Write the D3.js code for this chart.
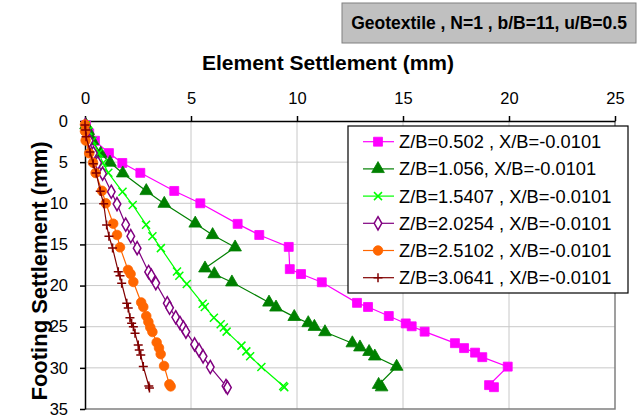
<!DOCTYPE html>
<meta charset="utf-8">
<style>
body { margin: 0; background: #fff; }
text { font-family: "Liberation Sans", Arial, sans-serif; }
.grid line { stroke: #c8c8c8; stroke-width: 1px; }
.axis path, .axis line { stroke: #000; stroke-width: 1.5px; }
.axis text { font-size: 16.5px; fill: #000; }
.series path.line { fill: none; stroke-width: 1.2px; }
</style>
<body>
<script src="https://d3js.org/d3.v7.min.js"></script>
<script>

// chart data: [element settlement (mm), footing settlement (mm)]
var zb0502 = [[0.05,0.5],[0.2,1.5],[0.47,2.4],[1.13,3.9],[1.76,5.1],[2.61,6.3],[4.21,8.5],[5.44,10.0],[7.20,12.5],[8.22,13.85],[9.61,15.3],[9.66,18.0],[10.19,18.6],[11.17,19.6],[12.83,22.1],[13.35,22.6],[14.33,23.7],[15.13,24.6],[15.41,24.95],[16.02,25.6],[17.45,27.0],[17.88,27.6],[18.4,28.15],[18.74,28.7],[19.94,29.85],[19.06,32.1],[19.29,32.35]];
var zb1056 = [[0.05,0.5],[0.15,1.2],[0.35,2.4],[0.74,3.95],[1.18,5.05],[1.78,6.35],[2.89,8.5],[3.74,10.05],[5.20,12.45],[6.02,13.85],[7.08,15.35],[5.66,17.9],[6.10,18.6],[6.93,19.6],[8.68,22.05],[9.01,22.65],[9.87,23.8],[10.53,24.55],[10.82,25.0],[11.32,25.65],[12.61,27.0],[12.97,27.5],[13.40,28.05],[13.67,28.6],[14.70,29.85],[13.85,32.05],[13.99,32.35]];
var zb15407 = [[0.05,0.5],[0.15,1.2],[0.35,2.4],[0.65,3.9],[0.85,5.1],[1.1,6.3],[1.77,8.6],[2.25,10.2],[2.88,12.6],[3.18,14.0],[3.58,15.45],[4.34,18.3],[4.45,18.8],[4.80,19.8],[5.55,22.2],[5.65,22.6],[6.08,23.9],[6.40,24.7],[6.55,25.1],[6.68,25.6],[7.38,27.3],[7.61,28.0],[7.79,28.6],[8.32,29.9],[9.35,32.2],[9.40,32.35]];
var zb20254 = [[0.02,0.5],[0.08,1.2],[0.2,2.4],[0.4,3.9],[0.6,5.1],[0.83,6.4],[1.24,8.6],[1.51,10.1],[1.92,12.6],[2.16,14.0],[2.46,15.45],[3.00,18.35],[3.13,18.8],[3.34,19.7],[3.88,22.15],[3.99,22.7],[4.28,23.85],[4.48,24.55],[4.64,25.1],[4.76,25.6],[5.17,27.15],[5.38,27.85],[5.57,28.6],[5.91,29.9],[6.65,32.2],[6.72,32.4]];
var zb25102 = [[0.0,0.43],[0.0,1.25],[0.03,2.37],[0.2,3.92],[0.38,5.07],[0.5,6.32],[0.8,8.48],[0.98,10.0],[1.33,12.48],[1.51,13.85],[1.65,15.35],[2.03,18.1],[2.15,18.59],[2.28,19.56],[2.65,22.05],[2.75,22.6],[2.89,23.7],[2.99,24.42],[3.08,25.09],[3.18,25.64],[3.38,26.91],[3.49,27.58],[3.57,28.33],[3.73,29.77],[3.98,32.0],[4.04,32.25]];
var zb30641 = [[0.0,0.5],[0.03,1.1],[0.05,1.9],[0.24,3.77],[0.39,5.19],[0.53,6.32],[0.72,8.54],[0.88,10.06],[1.02,12.64],[1.13,14.01],[1.30,15.43],[1.57,18.31],[1.65,18.80],[1.73,19.72],[1.97,22.15],[2.04,22.72],[2.12,23.9],[2.20,24.58],[2.28,24.99],[2.36,25.8],[2.51,27.22],[2.56,27.83],[2.63,28.43],[2.75,29.85],[3.01,32.2],[3.04,32.45]];

var seriesNames = ["Z/B=0.502 , X/B=-0.0101", "Z/B=1.056, X/B=-0.0101", "Z/B=1.5407 , X/B=-0.0101",
                   "Z/B=2.0254 , X/B=-0.0101", "Z/B=2.5102 , X/B=-0.0101", "Z/B=3.0641 , X/B=-0.0101"];
var seriesData = [zb0502, zb1056, zb15407, zb20254, zb25102, zb30641];
var colors = ["#ff00ff", "#008000", "#00ff00", "#800080", "#ff6600", "#800000"];
var xTicks = [0, 5, 10, 15, 20, 25];
var yTicks = [0, 5, 10, 15, 20, 25, 30, 35];

var W = 642, H = 415;
var plot = {left: 85, right: 615, top: 121, bottom: 409};

var svg = d3.select("body").append("svg")
    .attr("width", W)
    .attr("height", H);

var x = d3.scaleLinear().domain([0, 25]).range([plot.left, plot.right]);
var y = d3.scaleLinear().domain([0, 35]).range([plot.top, plot.bottom]);

// gridlines
var grid = svg.append("g").attr("class", "grid");
grid.selectAll(".v").data(xTicks.slice(1, -1)).enter().append("line")
    .attr("x1", d => x(d)).attr("x2", d => x(d))
    .attr("y1", plot.top).attr("y2", plot.bottom);
grid.selectAll(".h").data(yTicks.slice(1, -1)).enter().append("line")
    .attr("x1", plot.left).attr("x2", plot.right)
    .attr("y1", d => y(d)).attr("y2", d => y(d));

// plot area border (right / bottom)
svg.append("path")
    .attr("d", "M" + plot.right + "," + plot.top + "V" + plot.bottom + "H" + plot.left)
    .attr("fill", "none").attr("stroke", "#808080").attr("stroke-width", 1.5);

// axes
svg.append("g").attr("class", "axis")
    .attr("transform", "translate(0," + plot.top + ")")
    .call(d3.axisTop(x).tickValues(xTicks).tickSize(5).tickSizeOuter(0).tickPadding(12))
    .call(g => g.selectAll("text").attr("font-family", null));
svg.append("g").attr("class", "axis")
    .attr("transform", "translate(" + plot.left + ",0)")
    .call(d3.axisLeft(y).tickValues(yTicks).tickSize(5).tickSizeOuter(0).tickPadding(12))
    .call(g => g.selectAll("text").attr("font-family", null));

// marker shapes
var plus = { draw: function(ctx, s) { var r = Math.sqrt(s) / 2;
  ctx.moveTo(-r, 0); ctx.lineTo(r, 0); ctx.moveTo(0, -r); ctx.lineTo(0, r); } };
var cross = { draw: function(ctx, s) { var r = Math.sqrt(s) / 2;
  ctx.moveTo(-r, -r); ctx.lineTo(r, r); ctx.moveTo(-r, r); ctx.lineTo(r, -r); } };
var markers = [
  {type: d3.symbolSquare, size: 80, fill: true},
  {type: d3.symbolTriangle, size: 70, fill: true},
  {type: cross, size: 64, fill: false},
  {type: d3.symbolDiamond, size: 50, fill: false},
  {type: d3.symbolCircle, size: 72, fill: true},
  {type: plus, size: 81, fill: false}
];

function drawMarker(sel, i) {
  var m = markers[i];
  sel.attr("d", d3.symbol().type(m.type).size(m.size)())
    .attr("fill", m.fill ? colors[i] : (i === 3 ? "#fff" : "none"))
    .attr("stroke", colors[i])
    .attr("stroke-width", m.fill ? 0.8 : 1.5);
}

var line = d3.line().x(d => x(d[0])).y(d => y(d[1]));

seriesData.forEach(function(data, i) {
  var g = svg.append("g").attr("class", "series");
  g.append("path").attr("class", "line")
    .datum(data)
    .attr("stroke", colors[i])
    .attr("d", line);
  g.selectAll(".m").data(data).enter().append("path")
    .attr("transform", d => "translate(" + x(d[0]) + "," + y(d[1]) + ")")
    .call(drawMarker, i);
});

// axis titles
svg.append("text")
    .attr("x", 328).attr("y", 70)
    .attr("text-anchor", "middle")
    .style("font-size", "21px").style("font-weight", "bold")
    .text("Element Settlement (mm)");
svg.append("text")
    .attr("transform", "translate(47,271) rotate(-90)")
    .attr("text-anchor", "middle")
    .style("font-size", "22px").style("font-weight", "bold")
    .text("Footing Settlement (mm)");

// title box
svg.append("rect")
    .attr("x", 342).attr("y", 3).attr("width", 294).attr("height", 40)
    .attr("fill", "#c0c0c0").attr("stroke", "#808080").attr("stroke-width", 1);
svg.append("text")
    .attr("x", 489).attr("y", 29)
    .attr("text-anchor", "middle")
    .style("font-size", "17.5px").style("font-weight", "bold")
    .text("Geotextile , N=1 , b/B=11, u/B=0.5");

// legend
var legend = svg.append("g");
legend.append("rect")
    .attr("x", 348).attr("y", 126).attr("width", 280).attr("height", 167)
    .attr("fill", "#fff").attr("stroke", "#000").attr("stroke-width", 1.2);
seriesNames.forEach(function(name, i) {
  var ly = 141.7 + i * 27.2;
  legend.append("line")
    .attr("x1", 363).attr("x2", 394).attr("y1", ly).attr("y2", ly)
    .attr("stroke", colors[i]).attr("stroke-width", 1.2);
  legend.append("path")
    .attr("transform", "translate(378," + ly + ")")
    .call(drawMarker, i);
  legend.append("text")
    .attr("x", 399).attr("y", ly + 6.5)
    .style("font-size", "18.3px")
    .text(name);
});

</script>
</body>
